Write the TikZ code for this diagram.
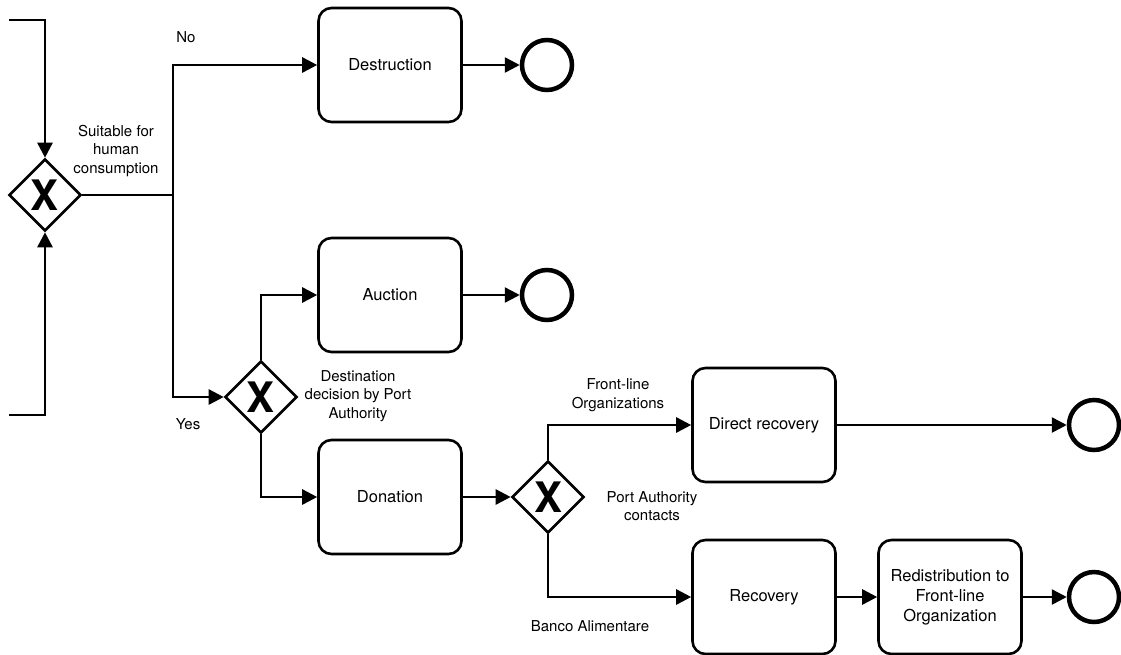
\documentclass[tikz,border=0pt]{standalone}
\usepackage{fontspec}
\setmainfont{TeX Gyre Heros}
\usetikzlibrary{arrows.meta,shapes.geometric}
\begin{document}
\begin{tikzpicture}[x=1pt,y=-1pt,
  task/.style={draw,line width=2.6pt,rounded corners=13pt,minimum width=143pt,minimum height=114pt,
    align=center,font=\fontsize{16.5}{20}\selectfont,inner sep=2pt},
  gate/.style={draw,diamond,line width=2.6pt,minimum width=72pt,minimum height=72pt,inner sep=0pt,
    font=\fontsize{42}{42}\selectfont\bfseries},
  endev/.style={draw,circle,line width=4.5pt,minimum size=50pt,inner sep=0pt},
  flow/.style={line width=2.6pt,-{Triangle[length=15pt,width=15pt]}},
  plain/.style={line width=2.6pt},
  lbl/.style={align=center,font=\fontsize{15}{18.5}\selectfont,inner sep=0pt}]
\useasboundingbox (0,0) rectangle (1121,654);

% gateways
\node[gate] (g1) at (45,195) {X};
\node[gate] (g2) at (261,397) {X};
\node[gate] (g3) at (548,497) {X};

% tasks
\node[task] (destr) at (390,65) {Destruction};
\node[task] (auct) at (390,295) {Auction};
\node[task] (don) at (390,497) {Donation};
\node[task] (direct) at (764,425) {Direct recovery};
\node[task] (recov) at (764,597) {Recovery};
\node[task] (redis) at (950,597) {Redistribution to\\Front-line\\Organization};

% end events
\node[endev] (e1) at (547,65) {};
\node[endev] (e2) at (547,295) {};
\node[endev] (e3) at (1094,425) {};
\node[endev] (e4) at (1094,597) {};

% incoming flows on the left
\coordinate (intop) at (9,20);
\coordinate (inbot) at (9,415);
\draw[flow] (intop) -| (g1.north);
\draw[flow] (inbot) -| (g1.south);

% first decision
\coordinate (split) at (173,195);
\draw[plain] (g1.east) -- (split);
\draw[flow] (split) |- (destr.west);
\draw[flow] (split) |- (g2.west);

% second decision
\draw[flow] (g2.north) |- (auct.west);
\draw[flow] (g2.south) |- (don.west);
\draw[flow] (don.east) -- (g3.west);

% third decision
\draw[flow] (g3.north) |- (direct.west);
\draw[flow] (g3.south) |- (recov.west);
\draw[flow] (recov.east) -- (redis.west);

% to end events
\draw[flow] (destr.east) -- (e1.west);
\draw[flow] (auct.east) -- (e2.west);
\draw[flow] (direct.east) -- (e3.west);
\draw[flow] (redis.east) -- (e4.west);

% labels
\node[lbl] (lno) at (186,37) {No};
\node[lbl] (lsuit) at (116,151) {Suitable for\\human\\consumption};
\node[lbl] (lyes) at (188,424) {Yes};
\node[lbl] (ldest) at (358,396) {Destination\\decision by Port\\Authority};
\node[lbl] (lfront) at (618,395) {Front-line\\Organizations};
\node[lbl] (lport) at (652,506) {Port Authority\\contacts};
\node[lbl] (lbanco) at (590,626) {Banco Alimentare};
\end{tikzpicture}
\end{document}
